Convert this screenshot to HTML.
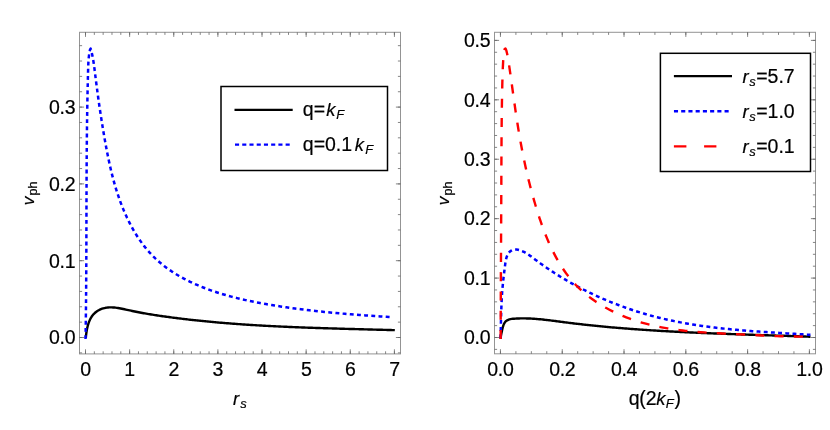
<!DOCTYPE html><html><head><meta charset="utf-8"><style>html,body{margin:0;padding:0;background:#fff}svg{display:block;will-change:transform;transform:translateZ(0)}text{font-family:"Liberation Sans",sans-serif;font-size:19.5px;fill:#000;stroke:#000;stroke-width:0.2px}.t{letter-spacing:-0.3px}.i{font-style:italic;font-size:18.4px}.i.s,.s{font-size:13.0px}</style></head><body>
<svg width="830" height="430" viewBox="0 0 830 430"><rect width="830" height="430" fill="#fff"/>
<rect x="79.5" y="32.3" width="321.0" height="321.59999999999997" fill="none" stroke="#666" stroke-width="1" stroke-opacity="0.7"/>
<path d="M85.50 353.9v-2.6M85.50 32.3v2.6M94.33 353.9v-2.6M94.33 32.3v2.6M103.15 353.9v-2.6M103.15 32.3v2.6M111.98 353.9v-2.6M111.98 32.3v2.6M120.80 353.9v-2.6M120.80 32.3v2.6M129.63 353.9v-2.6M129.63 32.3v2.6M138.46 353.9v-2.6M138.46 32.3v2.6M147.28 353.9v-2.6M147.28 32.3v2.6M156.11 353.9v-2.6M156.11 32.3v2.6M164.93 353.9v-2.6M164.93 32.3v2.6M173.76 353.9v-2.6M173.76 32.3v2.6M182.59 353.9v-2.6M182.59 32.3v2.6M191.41 353.9v-2.6M191.41 32.3v2.6M200.24 353.9v-2.6M200.24 32.3v2.6M209.06 353.9v-2.6M209.06 32.3v2.6M217.89 353.9v-2.6M217.89 32.3v2.6M226.72 353.9v-2.6M226.72 32.3v2.6M235.54 353.9v-2.6M235.54 32.3v2.6M244.37 353.9v-2.6M244.37 32.3v2.6M253.19 353.9v-2.6M253.19 32.3v2.6M262.02 353.9v-2.6M262.02 32.3v2.6M270.85 353.9v-2.6M270.85 32.3v2.6M279.67 353.9v-2.6M279.67 32.3v2.6M288.50 353.9v-2.6M288.50 32.3v2.6M297.32 353.9v-2.6M297.32 32.3v2.6M306.15 353.9v-2.6M306.15 32.3v2.6M314.98 353.9v-2.6M314.98 32.3v2.6M323.80 353.9v-2.6M323.80 32.3v2.6M332.63 353.9v-2.6M332.63 32.3v2.6M341.45 353.9v-2.6M341.45 32.3v2.6M350.28 353.9v-2.6M350.28 32.3v2.6M359.11 353.9v-2.6M359.11 32.3v2.6M367.93 353.9v-2.6M367.93 32.3v2.6M376.76 353.9v-2.6M376.76 32.3v2.6M385.58 353.9v-2.6M385.58 32.3v2.6M394.41 353.9v-2.6M394.41 32.3v2.6M85.50 353.9v-4.6M85.50 32.3v4.6M129.63 353.9v-4.6M129.63 32.3v4.6M173.76 353.9v-4.6M173.76 32.3v4.6M217.89 353.9v-4.6M217.89 32.3v4.6M262.02 353.9v-4.6M262.02 32.3v4.6M306.15 353.9v-4.6M306.15 32.3v4.6M350.28 353.9v-4.6M350.28 32.3v4.6M394.41 353.9v-4.6M394.41 32.3v4.6M79.5 352.86h2.6M400.5 352.86h-2.6M79.5 337.50h2.6M400.5 337.50h-2.6M79.5 322.14h2.6M400.5 322.14h-2.6M79.5 306.78h2.6M400.5 306.78h-2.6M79.5 291.42h2.6M400.5 291.42h-2.6M79.5 276.06h2.6M400.5 276.06h-2.6M79.5 260.70h2.6M400.5 260.70h-2.6M79.5 245.34h2.6M400.5 245.34h-2.6M79.5 229.98h2.6M400.5 229.98h-2.6M79.5 214.62h2.6M400.5 214.62h-2.6M79.5 199.26h2.6M400.5 199.26h-2.6M79.5 183.90h2.6M400.5 183.90h-2.6M79.5 168.54h2.6M400.5 168.54h-2.6M79.5 153.18h2.6M400.5 153.18h-2.6M79.5 137.82h2.6M400.5 137.82h-2.6M79.5 122.46h2.6M400.5 122.46h-2.6M79.5 107.10h2.6M400.5 107.10h-2.6M79.5 91.74h2.6M400.5 91.74h-2.6M79.5 76.38h2.6M400.5 76.38h-2.6M79.5 61.02h2.6M400.5 61.02h-2.6M79.5 45.66h2.6M400.5 45.66h-2.6M79.5 337.50h4.6M400.5 337.50h-4.6M79.5 260.70h4.6M400.5 260.70h-4.6M79.5 183.90h4.6M400.5 183.90h-4.6M79.5 107.10h4.6M400.5 107.10h-4.6" stroke="#666" stroke-width="0.8" fill="none"/>
<text x="85.50" y="376.20" text-anchor="middle" class="t">0</text>
<text x="129.63" y="376.20" text-anchor="middle" class="t">1</text>
<text x="173.76" y="376.20" text-anchor="middle" class="t">2</text>
<text x="217.89" y="376.20" text-anchor="middle" class="t">3</text>
<text x="262.02" y="376.20" text-anchor="middle" class="t">4</text>
<text x="306.15" y="376.20" text-anchor="middle" class="t">5</text>
<text x="350.28" y="376.20" text-anchor="middle" class="t">6</text>
<text x="394.41" y="376.20" text-anchor="middle" class="t">7</text>
<text x="75.20" y="344.30" text-anchor="end" class="t">0.0</text>
<text x="75.20" y="267.50" text-anchor="end" class="t">0.1</text>
<text x="75.20" y="190.70" text-anchor="end" class="t">0.2</text>
<text x="75.20" y="113.90" text-anchor="end" class="t">0.3</text>
<rect x="494.5" y="32.3" width="321.0" height="321.5" fill="none" stroke="#666" stroke-width="1" stroke-opacity="0.7"/>
<path d="M500.45 353.8v-2.6M500.45 32.3v2.6M515.90 353.8v-2.6M515.90 32.3v2.6M531.35 353.8v-2.6M531.35 32.3v2.6M546.79 353.8v-2.6M546.79 32.3v2.6M562.24 353.8v-2.6M562.24 32.3v2.6M577.69 353.8v-2.6M577.69 32.3v2.6M593.13 353.8v-2.6M593.13 32.3v2.6M608.58 353.8v-2.6M608.58 32.3v2.6M624.03 353.8v-2.6M624.03 32.3v2.6M639.48 353.8v-2.6M639.48 32.3v2.6M654.92 353.8v-2.6M654.92 32.3v2.6M670.37 353.8v-2.6M670.37 32.3v2.6M685.82 353.8v-2.6M685.82 32.3v2.6M701.27 353.8v-2.6M701.27 32.3v2.6M716.72 353.8v-2.6M716.72 32.3v2.6M732.16 353.8v-2.6M732.16 32.3v2.6M747.61 353.8v-2.6M747.61 32.3v2.6M763.06 353.8v-2.6M763.06 32.3v2.6M778.50 353.8v-2.6M778.50 32.3v2.6M793.95 353.8v-2.6M793.95 32.3v2.6M809.40 353.8v-2.6M809.40 32.3v2.6M500.45 353.8v-4.6M500.45 32.3v4.6M562.24 353.8v-4.6M562.24 32.3v4.6M624.03 353.8v-4.6M624.03 32.3v4.6M685.82 353.8v-4.6M685.82 32.3v4.6M747.61 353.8v-4.6M747.61 32.3v4.6M809.40 353.8v-4.6M809.40 32.3v4.6M494.5 349.38h2.6M815.5 349.38h-2.6M494.5 337.50h2.6M815.5 337.50h-2.6M494.5 325.62h2.6M815.5 325.62h-2.6M494.5 313.73h2.6M815.5 313.73h-2.6M494.5 301.85h2.6M815.5 301.85h-2.6M494.5 289.96h2.6M815.5 289.96h-2.6M494.5 278.08h2.6M815.5 278.08h-2.6M494.5 266.20h2.6M815.5 266.20h-2.6M494.5 254.31h2.6M815.5 254.31h-2.6M494.5 242.43h2.6M815.5 242.43h-2.6M494.5 230.54h2.6M815.5 230.54h-2.6M494.5 218.66h2.6M815.5 218.66h-2.6M494.5 206.78h2.6M815.5 206.78h-2.6M494.5 194.89h2.6M815.5 194.89h-2.6M494.5 183.01h2.6M815.5 183.01h-2.6M494.5 171.12h2.6M815.5 171.12h-2.6M494.5 159.24h2.6M815.5 159.24h-2.6M494.5 147.36h2.6M815.5 147.36h-2.6M494.5 135.47h2.6M815.5 135.47h-2.6M494.5 123.59h2.6M815.5 123.59h-2.6M494.5 111.70h2.6M815.5 111.70h-2.6M494.5 99.82h2.6M815.5 99.82h-2.6M494.5 87.94h2.6M815.5 87.94h-2.6M494.5 76.05h2.6M815.5 76.05h-2.6M494.5 64.17h2.6M815.5 64.17h-2.6M494.5 52.28h2.6M815.5 52.28h-2.6M494.5 40.40h2.6M815.5 40.40h-2.6M494.5 337.50h4.6M815.5 337.50h-4.6M494.5 278.08h4.6M815.5 278.08h-4.6M494.5 218.66h4.6M815.5 218.66h-4.6M494.5 159.24h4.6M815.5 159.24h-4.6M494.5 99.82h4.6M815.5 99.82h-4.6M494.5 40.40h4.6M815.5 40.40h-4.6" stroke="#666" stroke-width="0.8" fill="none"/>
<text x="500.45" y="376.10" text-anchor="middle" class="t">0.0</text>
<text x="562.24" y="376.10" text-anchor="middle" class="t">0.2</text>
<text x="624.03" y="376.10" text-anchor="middle" class="t">0.4</text>
<text x="685.82" y="376.10" text-anchor="middle" class="t">0.6</text>
<text x="747.61" y="376.10" text-anchor="middle" class="t">0.8</text>
<text x="809.40" y="376.10" text-anchor="middle" class="t">1.0</text>
<text x="490.20" y="344.30" text-anchor="end" class="t">0.0</text>
<text x="490.20" y="284.88" text-anchor="end" class="t">0.1</text>
<text x="490.20" y="225.46" text-anchor="end" class="t">0.2</text>
<text x="490.20" y="166.04" text-anchor="end" class="t">0.3</text>
<text x="490.20" y="106.62" text-anchor="end" class="t">0.4</text>
<text x="490.20" y="47.20" text-anchor="end" class="t">0.5</text>
<path d="M85.82 337.85L85.93 336.66L86.05 335.44L86.20 334.19L86.37 332.92L86.56 331.64L86.77 330.34L87.02 329.03L87.30 327.73L87.61 326.43L87.95 325.14L88.34 323.86L88.76 322.60L89.23 321.37L89.74 320.17L90.30 319.00L90.91 317.87L91.57 316.79L92.29 315.76L93.07 314.79L93.90 313.87L94.78 313.02L95.71 312.22L96.69 311.49L97.71 310.81L98.76 310.20L99.85 309.65L100.96 309.16L102.10 308.73L103.26 308.36L104.44 308.06L105.63 307.81L106.83 307.63L108.04 307.50L109.27 307.42L110.50 307.39L111.75 307.40L113.00 307.46L114.26 307.55L115.53 307.68L116.80 307.84L118.08 308.03L119.36 308.24L120.65 308.47L121.94 308.72L123.23 308.99L124.52 309.26L125.81 309.55L127.10 309.84L128.39 310.13L129.68 310.42L130.97 310.70L132.25 310.97L133.53 311.24L134.81 311.51L136.08 311.77L137.35 312.02L138.62 312.27L139.89 312.51L141.15 312.75L142.42 312.98L143.68 313.21L144.94 313.43L146.20 313.65L147.45 313.86L148.71 314.07L149.96 314.28L151.22 314.49L152.47 314.69L153.72 314.88L154.97 315.08L156.22 315.27L157.47 315.46L158.73 315.64L159.98 315.83L161.23 316.01L162.48 316.19L163.73 316.37L164.98 316.54L166.24 316.72L167.49 316.89L168.74 317.06L170.00 317.23L171.25 317.40L172.51 317.57L173.76 317.73L175.02 317.89L176.27 318.05L177.53 318.21L178.79 318.37L180.05 318.52L181.30 318.68L182.56 318.83L183.82 318.98L185.08 319.13L186.34 319.28L187.60 319.42L188.86 319.57L190.12 319.71L191.38 319.85L192.64 319.99L193.90 320.13L195.17 320.27L196.43 320.40L197.69 320.54L198.95 320.67L200.22 320.80L201.48 320.93L202.74 321.06L204.01 321.18L205.27 321.31L206.54 321.43L207.80 321.55L209.07 321.67L210.33 321.79L211.60 321.91L212.87 322.03L214.13 322.14L215.40 322.25L216.67 322.37L217.94 322.48L219.20 322.59L220.47 322.70L221.74 322.80L223.01 322.91L224.28 323.01L225.55 323.12L226.81 323.22L228.08 323.32L229.35 323.42L230.62 323.52L231.89 323.62L233.16 323.71L234.44 323.81L235.71 323.90L236.98 323.99L238.25 324.08L239.52 324.17L240.79 324.26L242.06 324.35L243.34 324.44L244.61 324.52L245.88 324.61L247.15 324.69L248.43 324.78L249.70 324.86L250.97 324.94L252.24 325.02L253.52 325.10L254.79 325.17L256.06 325.25L257.34 325.33L258.61 325.40L259.89 325.47L261.16 325.55L262.44 325.62L263.71 325.69L264.98 325.76L266.26 325.83L267.53 325.90L268.81 325.96L270.08 326.03L271.36 326.10L272.63 326.16L273.91 326.22L275.18 326.29L276.46 326.35L277.73 326.41L279.01 326.47L280.29 326.53L281.56 326.59L282.84 326.65L284.11 326.71L285.39 326.76L286.66 326.82L287.94 326.88L289.22 326.93L290.49 326.98L291.77 327.04L293.04 327.09L294.32 327.14L295.60 327.19L296.87 327.25L298.15 327.30L299.42 327.35L300.70 327.39L301.98 327.44L303.25 327.49L304.53 327.54L305.80 327.59L307.08 327.63L308.36 327.68L309.63 327.72L310.91 327.77L312.18 327.81L313.46 327.86L314.74 327.90L316.01 327.94L317.29 327.98L318.56 328.03L319.84 328.07L321.11 328.11L322.39 328.15L323.66 328.19L324.94 328.23L326.21 328.27L327.49 328.31L328.76 328.35L330.04 328.39L331.31 328.42L332.59 328.46L333.86 328.50L335.14 328.54L336.41 328.57L337.69 328.61L338.96 328.65L340.23 328.68L341.51 328.72L342.78 328.76L344.05 328.79L345.33 328.83L346.60 328.86L347.87 328.90L349.15 328.93L350.42 328.97L351.69 329.00L352.96 329.04L354.24 329.07L355.51 329.10L356.78 329.14L358.05 329.17L359.32 329.21L360.59 329.24L361.87 329.27L363.14 329.31L364.41 329.34L365.68 329.38L366.95 329.41L368.22 329.44L369.49 329.48L370.76 329.51L372.02 329.54L373.29 329.58L374.56 329.61L375.83 329.65L377.10 329.68L378.37 329.71L379.63 329.75L380.90 329.78L382.17 329.82L383.44 329.85L384.70 329.89L385.97 329.92L387.23 329.96L388.50 329.99L389.77 330.03L391.03 330.06L392.30 330.10L393.56 330.14L394.82 330.17" fill="none" stroke="#000" stroke-width="2.4" stroke-linejoin="round"/>
<path d="M85.53 339.06L85.58 336.09L85.63 333.13L85.67 330.16L85.72 327.20L85.76 324.24L85.80 321.28L85.84 318.32L85.88 315.36L85.92 312.40L85.95 309.44L85.98 306.48L86.01 303.53L86.04 300.57L86.07 297.62L86.09 294.67L86.12 291.71L86.14 288.76L86.16 285.81L86.18 282.86L86.20 279.91L86.22 276.96L86.24 274.01L86.26 271.06L86.27 268.11L86.29 265.16L86.30 262.21L86.31 259.27L86.32 256.32L86.34 253.37L86.35 250.43L86.36 247.48L86.37 244.53L86.38 241.59L86.38 238.64L86.39 235.70L86.40 232.75L86.41 229.81L86.42 226.86L86.43 223.92L86.43 220.98L86.44 218.03L86.45 215.09L86.46 212.14L86.46 209.20L86.47 206.25L86.48 203.31L86.49 200.36L86.50 197.42L86.51 194.47L86.52 191.53L86.53 188.58L86.54 185.64L86.56 182.69L86.57 179.74L86.58 176.80L86.60 173.85L86.61 170.90L86.63 167.96L86.65 165.01L86.67 162.06L86.68 159.11L86.71 156.16L86.73 153.21L86.75 150.26L86.78 147.31L86.80 144.36L86.83 141.40L86.86 138.45L86.89 135.50L86.92 132.54L86.96 129.59L86.99 126.63L87.03 123.68L87.07 120.72L87.11 117.76L87.16 114.80L87.20 111.84L87.25 108.88L87.30 105.92L87.35 102.96L87.41 99.99L87.46 97.03L87.52 94.06L87.59 91.09L87.65 88.13L87.72 85.16L87.79 82.19L87.86 79.21L87.93 76.24L88.01 73.27L88.09 70.29L88.18 67.32L88.29 64.35L88.44 61.40L88.67 58.47L88.98 55.58L89.40 52.72L89.96 49.92L90.64 48.64L91.36 51.04L92.00 53.75L92.58 56.53L93.09 59.37L93.56 62.25L93.99 65.17L94.39 68.12L94.77 71.09L95.14 74.07L95.51 77.04L95.88 80.01L96.26 82.98L96.64 85.94L97.03 88.89L97.42 91.84L97.82 94.78L98.22 97.72L98.63 100.66L99.05 103.59L99.47 106.51L99.90 109.44L100.34 112.36L100.78 115.27L101.23 118.18L101.69 121.09L102.15 124.00L102.62 126.90L103.10 129.81L103.59 132.71L104.09 135.60L104.59 138.50L105.10 141.40L105.63 144.29L106.16 147.18L106.71 150.07L107.27 152.96L107.84 155.84L108.43 158.72L109.04 161.60L109.67 164.47L110.31 167.34L110.98 170.21L111.68 173.07L112.39 175.92L113.14 178.77L113.91 181.61L114.71 184.45L115.54 187.28L116.40 190.10L117.30 192.91L118.23 195.72L119.19 198.51L120.19 201.30L121.24 204.08L122.32 206.85L123.44 209.61L124.60 212.35L125.81 215.07L127.05 217.78L128.35 220.46L129.68 223.12L131.06 225.75L132.49 228.36L133.96 230.93L135.48 233.48L137.05 235.98L138.67 238.45L140.34 240.88L142.05 243.27L143.82 245.62L145.64 247.92L147.52 250.17L149.44 252.37L151.43 254.51L153.46 256.61L155.55 258.64L157.70 260.62L159.90 262.54L162.15 264.40L164.45 266.21L166.79 267.97L169.18 269.67L171.61 271.33L174.08 272.93L176.59 274.48L179.13 275.98L181.70 277.44L184.31 278.84L186.94 280.21L189.60 281.52L192.29 282.80L195.00 284.03L197.72 285.22L200.47 286.37L203.23 287.48L206.00 288.55L208.78 289.59L211.58 290.59L214.38 291.55L217.19 292.48L220.00 293.37L222.83 294.23L225.65 295.07L228.49 295.87L231.33 296.64L234.18 297.38L237.04 298.10L239.90 298.80L242.76 299.46L245.63 300.11L248.51 300.73L251.39 301.33L254.27 301.91L257.16 302.48L260.05 303.02L262.95 303.55L265.85 304.06L268.75 304.56L271.66 305.04L274.56 305.51L277.48 305.97L280.39 306.42L283.31 306.86L286.23 307.28L289.15 307.70L292.07 308.10L294.99 308.50L297.92 308.88L300.85 309.25L303.78 309.62L306.71 309.97L309.65 310.32L312.58 310.65L315.52 310.98L318.45 311.30L321.39 311.61L324.33 311.91L327.27 312.21L330.21 312.50L333.16 312.78L336.10 313.05L339.04 313.31L341.98 313.57L344.93 313.83L347.87 314.07L350.82 314.31L353.76 314.55L356.70 314.78L359.65 315.00L362.59 315.22L365.53 315.43L368.48 315.64L371.42 315.85L374.36 316.05L377.30 316.24L380.24 316.44L383.18 316.63L386.11 316.81L389.05 317.00L391.98 317.18" fill="none" stroke="#0000ff" stroke-width="2.5" stroke-linejoin="round" stroke-dasharray="3.9 3.3" stroke-dashoffset="0"/>
<path d="M500.48 338.92L500.65 337.72L500.84 336.56L501.03 335.41L501.24 334.27L501.47 333.11L501.72 331.91L501.99 330.66L502.29 329.32L502.62 327.93L503.01 326.52L503.46 325.15L504.00 323.86L504.64 322.71L505.39 321.73L506.25 320.93L507.20 320.30L508.24 319.80L509.34 319.42L510.50 319.14L511.71 318.93L512.94 318.79L514.19 318.69L515.44 318.60L516.69 318.53L517.94 318.48L519.20 318.43L520.45 318.40L521.70 318.39L522.95 318.38L524.20 318.38L525.45 318.40L526.70 318.43L527.95 318.46L529.19 318.51L530.44 318.57L531.69 318.63L532.94 318.70L534.18 318.79L535.43 318.88L536.68 318.97L537.92 319.08L539.17 319.19L540.42 319.31L541.66 319.43L542.91 319.56L544.15 319.69L545.40 319.83L546.65 319.97L547.89 320.12L549.14 320.27L550.38 320.42L551.63 320.58L552.87 320.74L554.12 320.90L555.36 321.06L556.61 321.22L557.85 321.38L559.10 321.55L560.34 321.71L561.59 321.88L562.83 322.04L564.08 322.20L565.32 322.36L566.57 322.52L567.81 322.67L569.06 322.83L570.30 322.98L571.55 323.14L572.80 323.29L574.04 323.44L575.29 323.59L576.53 323.73L577.78 323.88L579.03 324.02L580.27 324.17L581.52 324.31L582.77 324.45L584.01 324.59L585.26 324.72L586.51 324.86L587.76 324.99L589.00 325.13L590.25 325.26L591.50 325.39L592.74 325.52L593.99 325.65L595.24 325.77L596.49 325.90L597.73 326.03L598.98 326.15L600.23 326.27L601.48 326.39L602.73 326.51L603.97 326.63L605.22 326.75L606.47 326.86L607.72 326.98L608.97 327.09L610.22 327.20L611.46 327.32L612.71 327.43L613.96 327.53L615.21 327.64L616.46 327.75L617.71 327.86L618.96 327.96L620.21 328.06L621.46 328.17L622.70 328.27L623.95 328.37L625.20 328.47L626.45 328.57L627.70 328.66L628.95 328.76L630.20 328.86L631.45 328.95L632.70 329.04L633.95 329.14L635.20 329.23L636.45 329.32L637.70 329.41L638.95 329.50L640.20 329.58L641.45 329.67L642.70 329.76L643.95 329.84L645.20 329.92L646.45 330.01L647.70 330.09L648.95 330.17L650.20 330.25L651.45 330.33L652.70 330.41L653.95 330.49L655.20 330.57L656.46 330.64L657.71 330.72L658.96 330.79L660.21 330.87L661.46 330.94L662.71 331.01L663.96 331.08L665.21 331.15L666.46 331.22L667.71 331.29L668.97 331.36L670.22 331.43L671.47 331.50L672.72 331.56L673.97 331.63L675.22 331.70L676.47 331.76L677.73 331.82L678.98 331.89L680.23 331.95L681.48 332.01L682.73 332.07L683.98 332.13L685.24 332.19L686.49 332.25L687.74 332.31L688.99 332.37L690.24 332.43L691.50 332.49L692.75 332.54L694.00 332.60L695.25 332.66L696.50 332.71L697.76 332.77L699.01 332.82L700.26 332.87L701.51 332.93L702.77 332.98L704.02 333.03L705.27 333.08L706.52 333.13L707.77 333.18L709.03 333.24L710.28 333.29L711.53 333.34L712.78 333.38L714.04 333.43L715.29 333.48L716.54 333.53L717.79 333.58L719.05 333.62L720.30 333.67L721.55 333.72L722.80 333.76L724.06 333.81L725.31 333.86L726.56 333.90L727.81 333.95L729.07 333.99L730.32 334.04L731.57 334.08L732.83 334.12L734.08 334.17L735.33 334.21L736.58 334.26L737.84 334.30L739.09 334.34L740.34 334.38L741.60 334.43L742.85 334.47L744.10 334.51L745.35 334.55L746.61 334.60L747.86 334.64L749.11 334.68L750.36 334.72L751.62 334.76L752.87 334.80L754.12 334.84L755.38 334.88L756.63 334.93L757.88 334.97L759.13 335.01L760.39 335.05L761.64 335.09L762.89 335.13L764.15 335.17L765.40 335.21L766.65 335.25L767.90 335.29L769.16 335.33L770.41 335.37L771.66 335.41L772.92 335.45L774.17 335.50L775.42 335.54L776.67 335.58L777.93 335.62L779.18 335.66L780.43 335.70L781.69 335.74L782.94 335.78L784.19 335.82L785.44 335.87L786.70 335.91L787.95 335.95L789.20 335.99L790.45 336.03L791.71 336.08L792.96 336.12L794.21 336.16L795.46 336.20L796.72 336.25L797.97 336.29L799.22 336.34L800.47 336.38L801.73 336.42L802.98 336.47L804.23 336.51L805.48 336.56L806.74 336.60L807.99 336.65L809.24 336.69L810.49 336.74" fill="none" stroke="#000" stroke-width="2.4" stroke-linejoin="round"/>
<path d="M500.52 338.94L500.57 337.41L500.62 335.87L500.66 334.32L500.70 332.77L500.74 331.21L500.78 329.64L500.81 328.07L500.85 326.50L500.89 324.92L500.92 323.33L500.96 321.75L501.00 320.16L501.04 318.57L501.08 316.98L501.12 315.38L501.16 313.79L501.21 312.20L501.26 310.60L501.31 309.01L501.37 307.42L501.43 305.83L501.49 304.24L501.56 302.66L501.64 301.08L501.72 299.50L501.80 297.93L501.89 296.36L501.99 294.80L502.09 293.24L502.20 291.69L502.32 290.15L502.44 288.61L502.58 287.08L502.72 285.56L502.86 284.04L503.02 282.52L503.18 280.99L503.35 279.46L503.52 277.93L503.70 276.38L503.89 274.83L504.08 273.26L504.27 271.67L504.47 270.06L504.67 268.43L504.88 266.78L505.10 265.10L505.32 263.41L505.58 261.72L505.88 260.06L506.25 258.45L506.70 256.90L507.24 255.44L507.90 254.10L508.70 252.89L509.64 251.83L510.75 250.94L512.03 250.25L513.42 249.77L514.91 249.52L516.44 249.50L517.99 249.72L519.53 250.12L521.04 250.65L522.51 251.26L523.94 251.94L525.33 252.68L526.68 253.48L528.01 254.32L529.32 255.20L530.61 256.11L531.88 257.05L533.15 258.00L534.41 258.95L535.67 259.91L536.94 260.85L538.21 261.79L539.48 262.73L540.76 263.65L542.04 264.57L543.33 265.48L544.62 266.39L545.92 267.29L547.21 268.18L548.52 269.06L549.82 269.94L551.13 270.81L552.45 271.67L553.77 272.53L555.09 273.38L556.42 274.23L557.75 275.06L559.08 275.89L560.42 276.72L561.76 277.54L563.11 278.35L564.46 279.15L565.81 279.95L567.17 280.74L568.53 281.53L569.90 282.31L571.26 283.08L572.64 283.84L574.01 284.60L575.39 285.36L576.78 286.11L578.16 286.85L579.55 287.58L580.95 288.31L582.34 289.03L583.75 289.75L585.15 290.46L586.56 291.16L587.97 291.86L589.38 292.55L590.80 293.23L592.22 293.91L593.64 294.58L595.07 295.24L596.50 295.90L597.93 296.55L599.37 297.20L600.81 297.84L602.25 298.47L603.70 299.10L605.15 299.72L606.60 300.33L608.05 300.94L609.51 301.54L610.96 302.13L612.43 302.72L613.89 303.30L615.36 303.87L616.83 304.44L618.30 305.00L619.77 305.56L621.25 306.11L622.73 306.65L624.21 307.18L625.70 307.71L627.18 308.23L628.67 308.75L630.16 309.26L631.66 309.76L633.15 310.26L634.65 310.75L636.15 311.23L637.65 311.71L639.16 312.18L640.66 312.64L642.17 313.09L643.68 313.54L645.19 313.99L646.70 314.42L648.22 314.85L649.74 315.28L651.25 315.69L652.78 316.10L654.30 316.51L655.82 316.90L657.35 317.29L658.87 317.68L660.40 318.05L661.93 318.42L663.46 318.79L664.99 319.14L666.53 319.49L668.06 319.84L669.60 320.17L671.14 320.50L672.68 320.83L674.22 321.15L675.76 321.46L677.30 321.77L678.85 322.07L680.39 322.36L681.94 322.65L683.49 322.94L685.04 323.22L686.59 323.49L688.14 323.76L689.69 324.02L691.24 324.28L692.80 324.53L694.35 324.78L695.91 325.02L697.46 325.25L699.02 325.49L700.58 325.71L702.14 325.94L703.70 326.16L705.26 326.37L706.82 326.58L708.39 326.79L709.95 326.99L711.51 327.18L713.08 327.38L714.64 327.57L716.21 327.75L717.78 327.93L719.34 328.11L720.91 328.28L722.48 328.45L724.05 328.62L725.62 328.79L727.19 328.95L728.76 329.10L730.33 329.26L731.90 329.41L733.47 329.55L735.04 329.70L736.61 329.84L738.19 329.98L739.76 330.12L741.33 330.25L742.91 330.38L744.48 330.51L746.05 330.64L747.63 330.76L749.20 330.89L750.77 331.01L752.35 331.13L753.92 331.24L755.50 331.36L757.07 331.47L758.64 331.58L760.22 331.69L761.79 331.80L763.37 331.90L764.94 332.01L766.51 332.11L768.09 332.22L769.66 332.32L771.23 332.42L772.81 332.52L774.38 332.62L775.95 332.72L777.53 332.81L779.10 332.91L780.67 333.01L782.24 333.10L783.81 333.20L785.38 333.29L786.95 333.39L788.52 333.48L790.09 333.58L791.66 333.67L793.23 333.77L794.79 333.86L796.36 333.96L797.93 334.05L799.49 334.15L801.06 334.24L802.62 334.34L804.19 334.44L805.75 334.54L807.31 334.64L808.87 334.74L810.44 334.84" fill="none" stroke="#0000ff" stroke-width="2.5" stroke-linejoin="round" stroke-dasharray="3.9 3.3" stroke-dashoffset="-0.8"/>
<path d="M500.63 339.03L500.64 335.97L500.65 332.91L500.66 329.85L500.67 326.79L500.68 323.74L500.69 320.68L500.70 317.62L500.72 314.57L500.73 311.52L500.74 308.46L500.75 305.41L500.77 302.36L500.78 299.31L500.79 296.26L500.81 293.21L500.82 290.16L500.84 287.11L500.85 284.07L500.86 281.02L500.88 277.97L500.89 274.93L500.91 271.88L500.92 268.83L500.94 265.79L500.95 262.74L500.97 259.70L500.98 256.65L501.00 253.61L501.01 250.56L501.03 247.52L501.04 244.47L501.06 241.43L501.07 238.38L501.09 235.33L501.10 232.29L501.12 229.24L501.13 226.20L501.15 223.15L501.16 220.10L501.18 217.05L501.19 214.00L501.20 210.95L501.22 207.90L501.23 204.85L501.25 201.80L501.26 198.75L501.27 195.70L501.29 192.64L501.30 189.59L501.31 186.53L501.33 183.48L501.34 180.42L501.35 177.36L501.36 174.30L501.37 171.24L501.39 168.18L501.40 165.12L501.41 162.06L501.43 159.00L501.44 155.94L501.45 152.88L501.47 149.82L501.49 146.76L501.51 143.70L501.52 140.65L501.55 137.59L501.57 134.54L501.59 131.49L501.62 128.44L501.65 125.39L501.68 122.35L501.71 119.30L501.75 116.26L501.78 113.23L501.82 110.19L501.87 107.16L501.91 104.14L501.96 101.11L502.02 98.09L502.07 95.08L502.13 92.07L502.20 89.06L502.26 86.06L502.33 83.06L502.41 80.07L502.49 77.05L502.59 74.01L502.70 70.93L502.83 67.79L502.99 64.59L503.16 61.30L503.37 57.91L503.62 54.47L504.01 51.37L504.66 49.11L505.52 48.58L506.34 50.43L507.08 53.58L507.72 56.90L508.27 60.08L508.77 63.15L509.22 66.16L509.67 69.14L510.10 72.11L510.52 75.07L510.94 78.03L511.35 80.99L511.76 83.97L512.18 86.96L512.59 89.97L513.01 92.99L513.43 96.03L513.85 99.08L514.28 102.13L514.72 105.19L515.16 108.25L515.60 111.32L516.06 114.38L516.52 117.43L516.98 120.48L517.46 123.52L517.94 126.55L518.43 129.57L518.94 132.58L519.45 135.59L519.97 138.58L520.50 141.56L521.05 144.54L521.60 147.51L522.17 150.47L522.75 153.43L523.34 156.38L523.95 159.32L524.57 162.26L525.20 165.20L525.85 168.14L526.51 171.07L527.19 174.00L527.88 176.93L528.59 179.85L529.32 182.78L530.06 185.71L530.82 188.63L531.60 191.56L532.40 194.49L533.22 197.42L534.05 200.35L534.90 203.29L535.78 206.23L536.67 209.18L537.59 212.12L538.53 215.07L539.49 218.02L540.48 220.96L541.50 223.89L542.55 226.82L543.62 229.73L544.73 232.63L545.87 235.52L547.05 238.39L548.26 241.24L549.50 244.07L550.79 246.88L552.11 249.66L553.48 252.41L554.89 255.14L556.34 257.83L557.84 260.49L559.39 263.11L560.98 265.69L562.62 268.23L564.32 270.73L566.06 273.19L567.86 275.60L569.72 277.96L571.63 280.27L573.60 282.52L575.63 284.73L577.72 286.87L579.86 288.96L582.07 290.99L584.32 292.96L586.63 294.88L588.99 296.75L591.40 298.56L593.86 300.31L596.36 302.02L598.90 303.67L601.48 305.26L604.10 306.81L606.76 308.30L609.45 309.74L612.18 311.13L614.93 312.47L617.71 313.75L620.53 314.99L623.36 316.18L626.22 317.32L629.10 318.41L632.00 319.46L634.91 320.45L637.84 321.40L640.79 322.30L643.74 323.15L646.70 323.96L649.67 324.72L652.65 325.44L655.63 326.12L658.62 326.75L661.61 327.34L664.60 327.90L667.60 328.41L670.60 328.89L673.61 329.34L676.62 329.76L679.63 330.15L682.65 330.51L685.67 330.84L688.69 331.15L691.72 331.44L694.75 331.71L697.78 331.95L700.81 332.18L703.85 332.39L706.89 332.59L709.93 332.78L712.97 332.95L716.01 333.12L719.06 333.28L722.10 333.43L725.15 333.58L728.19 333.73L731.24 333.88L734.29 334.03L737.33 334.18L740.38 334.34L743.43 334.50L746.48 334.66L749.53 334.82L752.57 334.98L755.62 335.14L758.67 335.30L761.72 335.45L764.77 335.60L767.81 335.74L770.86 335.88L773.91 336.00L776.96 336.12L780.01 336.23L783.06 336.32L786.11 336.41L789.15 336.48L792.20 336.53L795.25 336.57L798.30 336.59L801.35 336.60L804.40 336.58L807.45 336.54L810.50 336.48" fill="none" stroke="#ff0000" stroke-width="2.4" stroke-linejoin="round" stroke-dasharray="9.1 10.17" stroke-dashoffset="0"/>
<text x="233.0" y="404.7"><tspan class="i">r</tspan><tspan class="i s" dy="3.3" dx="1.2">s</tspan></text>
<text x="628.8" y="404.7">q<tspan dx="-0.3">(</tspan><tspan dx="-0.2">2</tspan><tspan class="i" dx="-0.2">k</tspan><tspan class="i s" dy="3.1" dx="0.3">F</tspan><tspan dy="-3.1" dx="0.6">)</tspan></text>
<text transform="translate(34.4 205.2) rotate(-90)"><tspan class="i" style="font-size:17.2px">v</tspan><tspan class="s" style="font-size:12.6px" dy="2.5" dx="1.1">ph</tspan></text>
<text transform="translate(449.4 205.2) rotate(-90)"><tspan class="i" style="font-size:17.2px">v</tspan><tspan class="s" style="font-size:12.6px" dy="2.5" dx="1.1">ph</tspan></text>
<rect x="221.0" y="86.5" width="166.5" height="84.0" fill="#fff" stroke="#000" stroke-width="1.5"/>
<path d="M234.5 109.9H292.7" stroke="#000" stroke-width="2.1"/>
<path d="M235.0 144.6H289.8" stroke="#0000ff" stroke-width="2.4" stroke-dasharray="4.1 3.13"/>
<text x="302.8" y="115.7">q=<tspan class="i" dx="1.2">k</tspan><tspan class="i s" dy="3.1" dx="0.8">F</tspan></text>
<text x="302.8" y="150.5">q=0.1<tspan class="i" dx="2.6">k</tspan><tspan class="i s" dy="3.1" dx="1.3">F</tspan></text>
<rect x="660.4" y="53.3" width="150.1" height="118.2" fill="#fff" stroke="#000" stroke-width="1.5"/>
<path d="M673.9 76.1H732.0" stroke="#000" stroke-width="2.1"/>
<path d="M673.95 111.2H728.9" stroke="#0000ff" stroke-width="2.4" stroke-dasharray="4.1 3.13"/>
<path d="M673.9 146.4H716.4" stroke="#ff0000" stroke-width="2.3" stroke-dasharray="12.5 17.7"/>
<text x="742.6" y="82.7"><tspan class="i">r</tspan><tspan class="i s" dy="3.3" dx="0.6">s</tspan><tspan dy="-3.3" dx="0.4">=5.7</tspan></text>
<text x="742.6" y="117.6"><tspan class="i">r</tspan><tspan class="i s" dy="3.3" dx="0.6">s</tspan><tspan dy="-3.3" dx="0.4">=1.0</tspan></text>
<text x="742.6" y="152.7"><tspan class="i">r</tspan><tspan class="i s" dy="3.3" dx="0.6">s</tspan><tspan dy="-3.3" dx="0.4">=0.1</tspan></text>
</svg></body></html>
